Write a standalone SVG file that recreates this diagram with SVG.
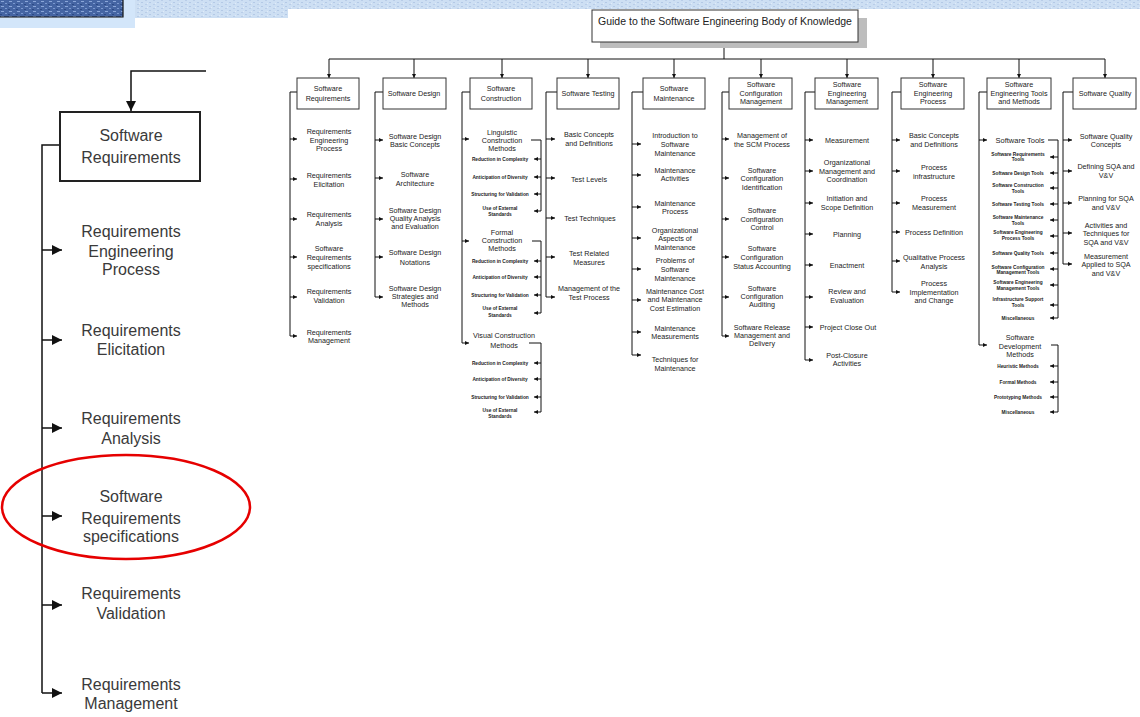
<svg xmlns="http://www.w3.org/2000/svg" width="1140" height="717" viewBox="0 0 1140 717">
<defs>
<style>
.t{font-family:"Liberation Sans",Arial,sans-serif;font-size:7.2px;fill:#222;text-anchor:middle}
.s{font-family:"Liberation Sans",Arial,sans-serif;font-size:4.8px;font-weight:bold;fill:#222;text-anchor:middle}
.big{font-family:"Liberation Sans",Arial,sans-serif;font-size:16px;fill:#3a3a3a;text-anchor:middle}
.bx{fill:#fff;stroke:#333;stroke-width:1}
.ln{fill:none;stroke:#111;stroke-width:1}
.ar{fill:none;stroke:#111;stroke-width:1;marker-end:url(#a)}
.arL{fill:none;stroke:#111;stroke-width:1.5;marker-end:url(#A)}
</style>
<marker id="a" viewBox="0 0 6 6" refX="6" refY="3" markerWidth="4.5" markerHeight="4" markerUnits="userSpaceOnUse" orient="auto"><path d="M0,0L6,3L0,6z" fill="#111"/></marker>
<marker id="A" viewBox="0 0 6 6" refX="6" refY="3" markerWidth="12" markerHeight="10" markerUnits="userSpaceOnUse" orient="auto"><path d="M0,0L6,3L0,6z" fill="#111"/></marker>
<pattern id="tex" width="8" height="4" patternUnits="userSpaceOnUse"><rect width="8" height="4" fill="#cddff3"/><rect x="1" y="0" width="2" height="1" fill="#b9cde8"/><rect x="5" y="2" width="2" height="1" fill="#b4c9e6"/><rect x="3" y="3" width="1" height="1" fill="#e0ebf8"/></pattern>
<pattern id="dk" width="8" height="5" patternUnits="userSpaceOnUse"><rect width="8" height="5" fill="#4565a3"/><rect x="1" y="1" width="3" height="1" fill="#8aa6d8"/><rect x="5" y="3" width="2" height="1" fill="#7a98cf"/><rect x="0" y="4" width="2" height="1" fill="#2c4a86"/></pattern>
</defs>

<g id="banner">
<rect x="0" y="0" width="135" height="28" fill="#d3e6fa"/>
<rect x="135" y="0" width="153" height="18" fill="url(#tex)"/>
<rect x="288" y="0" width="852" height="9" fill="url(#tex)"/>
<rect x="0" y="0" width="123" height="17" fill="url(#dk)"/>
<path d="M0,17H123V0" fill="none" stroke="#111" stroke-width="1.2"/>
</g>

<g id="connectors">
<path class="ln" d="M724,42V59M329,59H1105"/>
<path class="ar" d="M329,59V78"/><path class="ar" d="M414,59V78"/><path class="ar" d="M502,59V78"/><path class="ar" d="M588,59V78"/><path class="ar" d="M674,59V78"/>
<path class="ar" d="M761,59V78"/><path class="ar" d="M847,59V78"/><path class="ar" d="M933,59V78"/><path class="ar" d="M1019,59V78"/><path class="ar" d="M1105,59V78"/>
<!-- SR -->
<path class="ln" d="M297,92H290V336"/>
<path class="ar" d="M290,139H297"/><path class="ar" d="M290,179H297"/><path class="ar" d="M290,219H297"/><path class="ar" d="M290,257H297"/><path class="ar" d="M290,297H297"/><path class="ar" d="M290,336H297"/>
<!-- SD -->
<path class="ln" d="M383,92H375V297"/>
<path class="ar" d="M375,140H383"/><path class="ar" d="M375,178H383"/><path class="ar" d="M375,219H383"/><path class="ar" d="M375,257H383"/><path class="ar" d="M375,297H383"/>
<!-- SC -->
<path class="ln" d="M470,92H462V343"/>
<path class="ar" d="M462,139H469"/><path class="ar" d="M462,241H469"/><path class="ar" d="M462,343H469"/>
<path class="ln" d="M531,140H541V211M532,241H541V313M529,343H541V412"/>
<path class="ar" d="M541,159H534"/><path class="ar" d="M541,177H534"/><path class="ar" d="M541,194H534"/><path class="ar" d="M541,211H534"/>
<path class="ar" d="M541,261H534"/><path class="ar" d="M541,277H534"/><path class="ar" d="M541,295H534"/><path class="ar" d="M541,313H534"/>
<path class="ar" d="M541,363H534"/><path class="ar" d="M541,379H534"/><path class="ar" d="M541,397H534"/><path class="ar" d="M541,412H534"/>
<!-- ST -->
<path class="ln" d="M557,92H546V297"/>
<path class="ar" d="M546,139H555"/><path class="ar" d="M546,178H555"/><path class="ar" d="M546,218H555"/><path class="ar" d="M546,257H555"/><path class="ar" d="M546,297H555"/>
<!-- SM -->
<path class="ln" d="M643,92H632V355"/>
<path class="ar" d="M632,144H641"/><path class="ar" d="M632,175H641"/><path class="ar" d="M632,207H641"/><path class="ar" d="M632,238H641"/><path class="ar" d="M632,269H641"/><path class="ar" d="M632,300H641"/><path class="ar" d="M632,332H641"/><path class="ar" d="M632,355H641"/>
<!-- SCM -->
<path class="ln" d="M729,92H722V336"/>
<path class="ar" d="M722,139H729"/><path class="ar" d="M722,178H729"/><path class="ar" d="M722,219H729"/><path class="ar" d="M722,257H729"/><path class="ar" d="M722,297H729"/><path class="ar" d="M722,336H729"/>
<!-- SEM -->
<path class="ln" d="M815,92H805V360"/>
<path class="ar" d="M805,140H813"/><path class="ar" d="M805,171H813"/><path class="ar" d="M805,203H813"/><path class="ar" d="M805,234H813"/><path class="ar" d="M805,265H813"/><path class="ar" d="M805,297H813"/><path class="ar" d="M805,327H813"/><path class="ar" d="M805,360H813"/>
<!-- SEP -->
<path class="ln" d="M901,92H892V292"/>
<path class="ar" d="M892,140H900"/><path class="ar" d="M892,171H900"/><path class="ar" d="M892,203H900"/><path class="ar" d="M892,232H900"/><path class="ar" d="M892,261H900"/><path class="ar" d="M892,292H900"/>
<!-- SETM -->
<path class="ln" d="M987,92H979V345"/>
<path class="ar" d="M979,140H987"/><path class="ar" d="M979,345H987"/>
<path class="ln" d="M1048,140H1058V318M1051,345H1058V412"/>
<path class="ar" d="M1058,157H1050"/><path class="ar" d="M1058,173H1050"/><path class="ar" d="M1058,188H1050"/><path class="ar" d="M1058,204H1050"/><path class="ar" d="M1058,220H1050"/><path class="ar" d="M1058,236H1050"/><path class="ar" d="M1058,253H1050"/><path class="ar" d="M1058,269H1050"/><path class="ar" d="M1058,285H1050"/><path class="ar" d="M1058,305H1050"/><path class="ar" d="M1058,318H1050"/>
<path class="ar" d="M1058,366H1050"/><path class="ar" d="M1058,382H1050"/><path class="ar" d="M1058,397H1050"/><path class="ar" d="M1058,412H1050"/>
<!-- SQ -->
<path class="ln" d="M1073,92H1063V264"/>
<path class="ar" d="M1063,140H1072"/><path class="ar" d="M1063,171H1072"/><path class="ar" d="M1063,203H1072"/><path class="ar" d="M1063,233H1072"/><path class="ar" d="M1063,264H1072"/>
<!-- left enlarged -->
<path class="arL" d="M206,71H131V111"/>
<path class="ln" stroke-width="1.5" d="M60,145H42V693" style="stroke-width:1.5"/>
<path class="arL" d="M42,250H62"/><path class="arL" d="M42,340H62"/><path class="arL" d="M42,428H62"/><path class="arL" d="M42,516H62"/><path class="arL" d="M42,605H62"/><path class="arL" d="M42,693H62"/>
</g>

<g id="title">
<rect x="600" y="18" width="267" height="30" fill="#bdbdbd"/>
<rect x="592" y="10" width="266" height="32" class="bx"/>
<text x="725" y="24.5" class="t" style="font-size:10.5px">Guide to the Software Engineering Body of Knowledge</text>
</g>

<g id="sr">
<rect x="297" y="78" width="62" height="31" class="bx"/>
<text class="t" x="328" y="90.5">Software</text><text class="t" x="328" y="100.5">Requirements</text>
</g>
<g id="sr-children">
<text class="t" x="329" y="133.5">Requirements</text><text class="t" x="329" y="142.5">Engineering</text><text class="t" x="329" y="150.5">Process</text>
<text class="t" x="329" y="177.5">Requirements</text><text class="t" x="329" y="186.5">Elicitation</text>
<text class="t" x="329" y="216.5">Requirements</text><text class="t" x="329" y="225.5">Analysis</text>
<text class="t" x="329" y="250.5">Software</text><text class="t" x="329" y="259.5">Requirements</text><text class="t" x="329" y="268.5">specifications</text>
<text class="t" x="329" y="293.5">Requirements</text><text class="t" x="329" y="302.5">Validation</text>
<text class="t" x="329" y="334.5">Requirements</text><text class="t" x="329" y="342.5">Management</text>
</g>

<g id="sd">
<rect x="383" y="78" width="63" height="31" class="bx"/>
<text class="t" x="414" y="95.5">Software Design</text>
</g>
<g id="sd-children">
<text class="t" x="415" y="138.5">Software Design</text><text class="t" x="415" y="146.5">Basic Concepts</text>
<text class="t" x="415" y="176.5">Software</text><text class="t" x="415" y="185.5">Architecture</text>
<text class="t" x="415" y="212.5">Software Design</text><text class="t" x="415" y="220.5">Quality Analysis</text><text class="t" x="415" y="228.5">and Evaluation</text>
<text class="t" x="415" y="254.5">Software Design</text><text class="t" x="415" y="264.5">Notations</text>
<text class="t" x="415" y="290.5">Software Design</text><text class="t" x="415" y="298.5">Strategies and</text><text class="t" x="415" y="306.5">Methods</text>
</g>

<g id="sc">
<rect x="470" y="78" width="62" height="31" class="bx"/>
<text class="t" x="501" y="90.5">Software</text><text class="t" x="501" y="100.5">Construction</text>
</g>
<g id="sc-children">
<text class="t" x="502" y="134.5">Linguistic</text><text class="t" x="502" y="142.5">Construction</text><text class="t" x="502" y="150.5">Methods</text>
<text class="s" x="500" y="160.7">Reduction in Complexity</text>
<text class="s" x="500" y="178.7">Anticipation of Diversity</text>
<text class="s" x="500" y="195.7">Structuring for Validation</text>
<text class="s" x="500" y="209.7">Use of External</text><text class="s" x="500" y="215.7">Standards</text>
<text class="t" x="502" y="234.5">Formal</text><text class="t" x="502" y="242.5">Construction</text><text class="t" x="502" y="250.5">Methods</text>
<text class="s" x="500" y="262.7">Reduction in Complexity</text>
<text class="s" x="500" y="278.7">Anticipation of Diversity</text>
<text class="s" x="500" y="296.7">Structuring for Validation</text>
<text class="s" x="500" y="309.7">Use of External</text><text class="s" x="500" y="316.7">Standards</text>
<text class="t" x="504" y="337.5">Visual Construction</text><text class="t" x="504" y="347.5">Methods</text>
<text class="s" x="500" y="364.7">Reduction in Complexity</text>
<text class="s" x="500" y="380.7">Anticipation of Diversity</text>
<text class="s" x="500" y="398.7">Structuring for Validation</text>
<text class="s" x="500" y="411.7">Use of External</text><text class="s" x="500" y="418.2">Standards</text>
</g>

<g id="st">
<rect x="557" y="78" width="62" height="31" class="bx"/>
<text class="t" x="588" y="95.5">Software Testing</text>
</g>
<g id="st-children">
<text class="t" x="589" y="136.5">Basic Concepts</text><text class="t" x="589" y="145.5">and Definitions</text>
<text class="t" x="589" y="181.5">Test Levels</text>
<text class="t" x="590" y="220.5">Test Techniques</text>
<text class="t" x="589" y="255.5">Test Related</text><text class="t" x="589" y="264.5">Measures</text>
<text class="t" x="589" y="290.5">Management of the</text><text class="t" x="589" y="299.5">Test Process</text>
</g>

<g id="sm">
<rect x="643" y="78" width="62" height="31" class="bx"/>
<text class="t" x="674" y="90.5">Software</text><text class="t" x="674" y="100.5">Maintenance</text>
</g>
<g id="sm-children">
<text class="t" x="675" y="137.5">Introduction to</text><text class="t" x="675" y="146.5">Software</text><text class="t" x="675" y="155.5">Maintenance</text>
<text class="t" x="675" y="172.5">Maintenance</text><text class="t" x="675" y="180.5">Activities</text>
<text class="t" x="675" y="205.5">Maintenance</text><text class="t" x="675" y="213.5">Process</text>
<text class="t" x="675" y="232.5">Organizational</text><text class="t" x="675" y="240.5">Aspects of</text><text class="t" x="675" y="249.5">Maintenance</text>
<text class="t" x="675" y="262.5">Problems of</text><text class="t" x="675" y="271.5">Software</text><text class="t" x="675" y="280.5">Maintenance</text>
<text class="t" x="675" y="293.5">Maintenance Cost</text><text class="t" x="675" y="301.5">and Maintenance</text><text class="t" x="675" y="310.5">Cost Estimation</text>
<text class="t" x="675" y="330.5">Maintenance</text><text class="t" x="675" y="338.5">Measurements</text>
<text class="t" x="675" y="361.5">Techniques for</text><text class="t" x="675" y="370.5">Maintenance</text>
</g>

<g id="scm">
<rect x="729" y="78" width="63" height="31" class="bx"/>
<text class="t" x="761" y="86.5">Software</text><text class="t" x="761" y="95.5">Configuration</text><text class="t" x="761" y="103.5">Management</text>
</g>
<g id="scm-children">
<text class="t" x="762" y="137.5">Management of</text><text class="t" x="762" y="146.5">the SCM Process</text>
<text class="t" x="762" y="172.5">Software</text><text class="t" x="762" y="180.5">Configuration</text><text class="t" x="762" y="189.5">Identification</text>
<text class="t" x="762" y="212.5">Software</text><text class="t" x="762" y="221.5">Configuration</text><text class="t" x="762" y="229.5">Control</text>
<text class="t" x="762" y="250.5">Software</text><text class="t" x="762" y="259.5">Configuration</text><text class="t" x="762" y="268.5">Status Accounting</text>
<text class="t" x="762" y="290.5">Software</text><text class="t" x="762" y="298.5">Configuration</text><text class="t" x="762" y="306.5">Auditing</text>
<text class="t" x="762" y="329.5">Software Release</text><text class="t" x="762" y="337.5">Management and</text><text class="t" x="762" y="345.5">Delivery</text>
</g>

<g id="sem">
<rect x="815" y="78" width="63" height="31" class="bx"/>
<text class="t" x="847" y="86.5">Software</text><text class="t" x="847" y="95.5">Engineering</text><text class="t" x="847" y="103.5">Management</text>
</g>
<g id="sem-children">
<text class="t" x="847" y="142.5">Measurement</text>
<text class="t" x="847" y="164.5">Organizational</text><text class="t" x="847" y="173.5">Management and</text><text class="t" x="847" y="181.5">Coordination</text>
<text class="t" x="847" y="200.5">Initiation and</text><text class="t" x="847" y="209.5">Scope Definition</text>
<text class="t" x="847" y="236.5">Planning</text>
<text class="t" x="847" y="267.5">Enactment</text>
<text class="t" x="847" y="293.5">Review and</text><text class="t" x="847" y="302.5">Evaluation</text>
<text class="t" x="848" y="329.5">Project Close Out</text>
<text class="t" x="847" y="357.5">Post-Closure</text><text class="t" x="847" y="365.5">Activities</text>
</g>

<g id="sep">
<rect x="901" y="78" width="63" height="31" class="bx"/>
<text class="t" x="933" y="86.5">Software</text><text class="t" x="933" y="95.5">Engineering</text><text class="t" x="933" y="103.5">Process</text>
</g>
<g id="sep-children">
<text class="t" x="934" y="137.5">Basic Concepts</text><text class="t" x="934" y="146.5">and Definitions</text>
<text class="t" x="934" y="169.5">Process</text><text class="t" x="934" y="178.5">infrastructure</text>
<text class="t" x="934" y="200.5">Process</text><text class="t" x="934" y="209.5">Measurement</text>
<text class="t" x="934" y="234.5">Process Definition</text>
<text class="t" x="934" y="259.5">Qualitative Process</text><text class="t" x="934" y="268.5">Analysis</text>
<text class="t" x="934" y="285.5">Process</text><text class="t" x="934" y="294.5">Implementation</text><text class="t" x="934" y="302.5">and Change</text>
</g>

<g id="setm">
<rect x="987" y="78" width="64" height="31" class="bx"/>
<text class="t" x="1019" y="86.5">Software</text><text class="t" x="1019" y="95.5">Engineering Tools</text><text class="t" x="1019" y="103.5">and Methods</text>
</g>
<g id="setm-children">
<text class="t" x="1020" y="142.6" style="font-size:7.5px">Software Tools</text>
<text class="s" x="1018" y="155.7">Software Requirements</text><text class="s" x="1018" y="160.7">Tools</text>
<text class="s" x="1018" y="174.7">Software Design Tools</text>
<text class="s" x="1018" y="186.7">Software Construction</text><text class="s" x="1018" y="192.7">Tools</text>
<text class="s" x="1018" y="205.7">Software Testing Tools</text>
<text class="s" x="1018" y="218.7">Software Maintenance</text><text class="s" x="1018" y="224.7">Tools</text>
<text class="s" x="1018" y="233.7">Software Engineering</text><text class="s" x="1018" y="239.7">Process Tools</text>
<text class="s" x="1018" y="254.7">Software Quality Tools</text>
<text class="s" x="1018" y="268.7">Software Configuration</text><text class="s" x="1018" y="273.7">Management Tools</text>
<text class="s" x="1018" y="283.7">Software Engineering</text><text class="s" x="1018" y="289.7">Management Tools</text>
<text class="s" x="1018" y="300.7">Infrastructure Support</text><text class="s" x="1018" y="306.7">Tools</text>
<text class="s" x="1018" y="319.7">Miscellaneous</text>
<text class="t" x="1020" y="339.5">Software</text><text class="t" x="1020" y="348.5">Development</text><text class="t" x="1020" y="356.5">Methods</text>
<text class="s" x="1018" y="367.7">Heuristic Methods</text>
<text class="s" x="1018" y="383.7">Formal Methods</text>
<text class="s" x="1018" y="398.7">Prototyping Methods</text>
<text class="s" x="1018" y="413.7">Miscellaneous</text>
</g>

<g id="sq">
<rect x="1073" y="78" width="63" height="31" class="bx"/>
<text class="t" x="1105" y="95.5">Software Quality</text>
</g>
<g id="sq-children">
<text class="t" x="1106" y="138.5">Software Quality</text><text class="t" x="1106" y="146.5">Concepts</text>
<text class="t" x="1106" y="168.5">Defining SQA and</text><text class="t" x="1106" y="177.5">V&amp;V</text>
<text class="t" x="1106" y="200.5">Planning for SQA</text><text class="t" x="1106" y="209.5">and V&amp;V</text>
<text class="t" x="1106" y="227.5">Activities and</text><text class="t" x="1106" y="235.5">Techniques for</text><text class="t" x="1106" y="244.5">SQA and V&amp;V</text>
<text class="t" x="1106" y="258.5">Measurement</text><text class="t" x="1106" y="266.5">Applied to SQA</text><text class="t" x="1106" y="275.5">and V&amp;V</text>
</g>

<g id="zoom-sr">
<rect x="60" y="112" width="140" height="69" fill="#fff" stroke="#222" stroke-width="2"/>
<text class="big" x="131" y="140.6">Software</text><text class="big" x="131" y="162.6">Requirements</text>
</g>
<g id="zoom-children">
<text class="big" x="131" y="236.6">Requirements</text><text class="big" x="131" y="256.6">Engineering</text><text class="big" x="131" y="274.6">Process</text>
<text class="big" x="131" y="335.6">Requirements</text><text class="big" x="131" y="354.6">Elicitation</text>
<text class="big" x="131" y="423.6">Requirements</text><text class="big" x="131" y="443.6">Analysis</text>
<text class="big" x="131" y="501.6">Software</text><text class="big" x="131" y="523.6">Requirements</text><text class="big" x="131" y="541.6">specifications</text>
<text class="big" x="131" y="598.6">Requirements</text><text class="big" x="131" y="618.6">Validation</text>
<text class="big" x="131" y="689.6">Requirements</text><text class="big" x="131" y="708.6">Management</text>
</g>
<ellipse id="highlight" cx="126" cy="507" rx="124" ry="52" fill="none" stroke="#e60000" stroke-width="2.5"/>
</svg>
